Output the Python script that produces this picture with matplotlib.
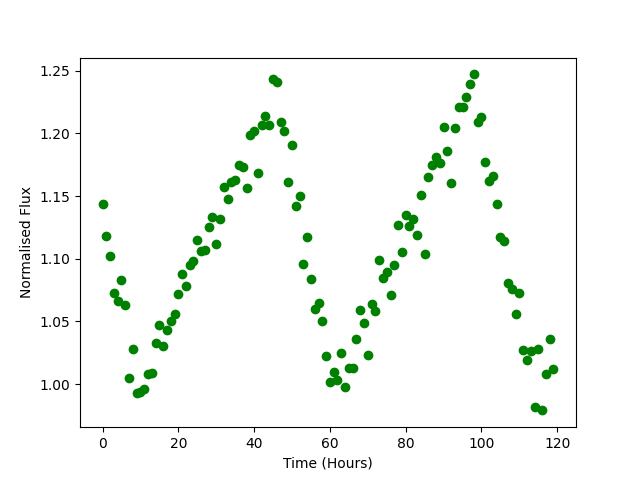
import numpy as np
import matplotlib
matplotlib.use('Agg')
import matplotlib.pyplot as plt

# hourly samples 0..119
time_hours = np.arange(120)

flux = [
    1.144, 1.118, 1.102, 1.073, 1.066, 1.083, 1.063, 1.005, 1.028, 0.993,
    0.994, 0.996, 1.008, 1.009, 1.033, 1.047, 1.030, 1.043, 1.050, 1.056,
    1.072, 1.088, 1.078, 1.095, 1.098, 1.115, 1.106, 1.107, 1.125, 1.133,
    1.112, 1.132, 1.157, 1.148, 1.161, 1.163, 1.175, 1.173, 1.156, 1.199,
    1.202, 1.168, 1.207, 1.214, 1.207, 1.243, 1.241, 1.209, 1.202, 1.161,
    1.191, 1.142, 1.150, 1.096, 1.117, 1.084, 1.060, 1.065, 1.050, 1.022,
    1.002, 1.010, 1.003, 1.025, 0.998, 1.013, 1.013, 1.036, 1.059, 1.049,
    1.023, 1.064, 1.058, 1.099, 1.085, 1.089, 1.071, 1.095, 1.127, 1.105,
    1.135, 1.126, 1.132, 1.119, 1.151, 1.104, 1.165, 1.175, 1.181, 1.176,
    1.205, 1.186, 1.160, 1.204, 1.221, 1.221, 1.229, 1.239, 1.247, 1.209,
    1.213, 1.177, 1.162, 1.166, 1.144, 1.117, 1.114, 1.081, 1.076, 1.056,
    1.073, 1.027, 1.019, 1.026, 0.982, 1.028, 0.979, 1.008, 1.036, 1.012,
]


def main():
    plt.figure(figsize=(6.4, 4.8), dpi=100)
    plt.plot(time_hours, flux, 'go')
    plt.xlabel('Time (Hours)')
    plt.ylabel('Normalised Flux')
    plt.savefig('out.png')


if __name__ == '__main__':
    main()
